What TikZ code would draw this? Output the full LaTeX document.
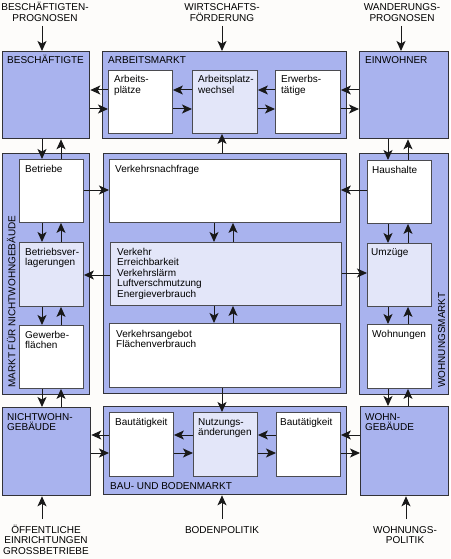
\documentclass[tikz,border=0pt]{standalone}
\usepackage{fontspec}
\setmainfont{Liberation Sans}
\usetikzlibrary{arrows.meta}
\definecolor{panelc}{RGB}{169,179,238}
\definecolor{lightc}{RGB}{227,230,249}
\definecolor{bgc}{RGB}{253,252,250}
\definecolor{edgec}{RGB}{50,50,55}
\definecolor{inedge}{RGB}{75,75,80}
\begin{document}
\begin{tikzpicture}[x=1pt,y=-1pt,
  panelbox/.style={draw=edgec, line width=1.3pt, fill=panelc, anchor=north west, inner sep=0pt},
  whitebox/.style={draw=inedge, line width=0.9pt, fill=white, anchor=north west, inner sep=0pt},
  lightbox/.style={draw=inedge, line width=0.9pt, fill=lightc, anchor=north west, inner sep=0pt},
  lbl/.style={anchor=base west, inner sep=0pt, font=\fontsize{10}{10.5}\selectfont, align=left},
  extlbl/.style={anchor=base, inner sep=0pt, font=\fontsize{10}{10.6}\selectfont, align=center},
  arr/.style={-{Stealth[length=10pt,width=9pt,inset=2.5pt]}, line width=1pt, draw=black!90}
]
\fill[bgc] (0,0) rectangle (450,559);
\useasboundingbox (0,0) rectangle (450,559);

% top row
\node[panelbox, minimum width=87.5pt, minimum height=87pt] (besch) at (1.5,51) {};
\node[panelbox, minimum width=244pt, minimum height=87pt] (arbm) at (102,51) {};
\node[panelbox, minimum width=88.5pt, minimum height=87pt] (einw) at (359,51) {};
\node[whitebox, minimum width=64pt, minimum height=63pt] (apl) at (108,70) {};
\node[lightbox, minimum width=65pt, minimum height=63pt] (apw) at (192,70) {};
\node[whitebox, minimum width=65pt, minimum height=63pt] (erw) at (275,70) {};
% middle row
\node[panelbox, minimum width=87.5pt, minimum height=241pt] (mnw) at (1.5,153) {};
\node[panelbox, minimum width=243pt, minimum height=240pt] (verk) at (103,153) {};
\node[panelbox, minimum width=88.5pt, minimum height=241pt] (wm) at (359,153) {};
\node[whitebox, minimum width=64pt, minimum height=63pt] (betr) at (19,159) {};
\node[lightbox, minimum width=64pt, minimum height=64pt] (bver) at (19,242) {};
\node[whitebox, minimum width=64pt, minimum height=63pt] (gew) at (19,325) {};
\node[whitebox, minimum width=231pt, minimum height=63pt] (vn) at (109,159) {};
\node[lightbox, minimum width=231pt, minimum height=63pt] (vk) at (110,242) {};
\node[whitebox, minimum width=231pt, minimum height=64pt] (va) at (109,323) {};
\node[whitebox, minimum width=64pt, minimum height=63pt] (hh) at (367,160) {};
\node[lightbox, minimum width=64pt, minimum height=63pt] (umz) at (367,243) {};
\node[whitebox, minimum width=64pt, minimum height=64pt] (wohn) at (367,324) {};
% bottom row
\node[panelbox, minimum width=88.5pt, minimum height=88pt] (nwg) at (1.5,407) {};
\node[panelbox, minimum width=243pt, minimum height=88pt] (bbm) at (103,406) {};
\node[whitebox, minimum width=64pt, minimum height=64pt] (bau1) at (109,412) {};
\node[lightbox, minimum width=64pt, minimum height=64pt] (nutz) at (193,412) {};
\node[whitebox, minimum width=64pt, minimum height=64pt] (bau2) at (276,412) {};
\node[panelbox, minimum width=88pt, minimum height=89pt] (wg) at (360,406) {};

% labels (anchor = baseline of the last line)
\node[lbl] (t1) at (7,64) {BESCHÄFTIGTE};
\node[lbl] (t2) at (108,64) {ARBEITSMARKT};
\node[lbl] (t3) at (365,64) {EINWOHNER};
\node[lbl] (t4) at (114,93.5) {Arbeits-\\plätze};
\node[lbl] (t5) at (198,93.5) {Arbeitsplatz-\\wechsel};
\node[lbl] (t6) at (281,93.5) {Erwerbs-\\tätige};
\node[lbl] (t7) at (25,172) {Betriebe};
\node[lbl] (t8) at (115,172) {Verkehrsnachfrage};
\node[lbl] (t9) at (372,173) {Haushalte};
\node[lbl] (t10) at (25,265.5) {Betriebsver-\\lagerungen};
\node[lbl] (t11) at (117,297) {Verkehr\\Erreichbarkeit\\Verkehrslärm\\Luftverschmutzung\\Energieverbrauch};
\node[lbl] (t12) at (371,255) {Umzüge};
\node[lbl] (t13) at (25,348.5) {Gewerbe-\\flächen};
\node[lbl] (t14) at (116,347.5) {Verkehrsangebot\\Flächenverbrauch};
\node[lbl] (t15) at (372,337) {Wohnungen};
\node[lbl] (t16) at (7,430.5) {NICHTWOHN-\\GEBÄUDE};
\node[lbl] (t17) at (115,425) {Bautätigkeit};
\node[lbl] (t18) at (198,435.5) {Nutzungs-\\änderungen};
\node[lbl] (t19) at (280,425) {Bautätigkeit};
\node[lbl] (t20) at (365,430.5) {WOHN-\\GEBÄUDE};
\node[lbl] (t21) at (110,489) {BAU- UND BODENMARKT};
\node[lbl, rotate=90] (t22) at (15.5,388) {MARKT FÜR NICHTWOHNGEBÄUDE};
\node[lbl, rotate=90] (t23) at (445,388) {WOHNUNGSMARKT};

% external labels (anchor = baseline of the last line)
\node[extlbl] (x1) at (45,21.6) {BESCHÄFTIGTEN-\\PROGNOSEN};
\node[extlbl] (x2) at (222,21.6) {WIRTSCHAFTS-\\FÖRDERUNG};
\node[extlbl] (x3) at (402,21.6) {WANDERUNGS-\\PROGNOSEN};
\node[extlbl] (x4) at (46,554.2) {ÖFFENTLICHE\\EINRICHTUNGEN\\GROSSBETRIEBE};
\node[extlbl] (x5) at (222,533) {BODENPOLITIK};
\node[extlbl] (x6) at (405,543.6) {WOHNUNGS-\\POLITIK};

\coordinate (e1) at (42,26);
\coordinate (e2) at (222,26);
\coordinate (e3) at (401,26);
\coordinate (e4) at (42,519);
\coordinate (e5) at (222,519);
\coordinate (e6) at (406,519);

% external arrows
\draw[arr] (e1) -- (besch.north -| e1);
\draw[arr] (e2) -- (arbm.north -| e2);
\draw[arr] (e3) -- (einw.north -| e3);
\draw[arr] (e4) -- (nwg.south -| e4);
\draw[arr] (e5) -- (bbm.south -| e5);
\draw[arr] (e6) -- (wg.south -| e6);

% top row horizontal
\draw[arr] (apl.west |- 0,90) -- (besch.east |- 0,90);
\draw[arr] (besch.east |- 0,109) -- (apl.west |- 0,109);
\draw[arr] (apw.west |- 0,90) -- (apl.east |- 0,90);
\draw[arr] (apl.east |- 0,109) -- (apw.west |- 0,109);
\draw[arr] (erw.west |- 0,90) -- (apw.east |- 0,90);
\draw[arr] (apw.east |- 0,109) -- (erw.west |- 0,109);
\draw[arr] (einw.west |- 0,90) -- (erw.east |- 0,90);
\draw[arr] (erw.east |- 0,109) -- (einw.west |- 0,109);

% bottom row horizontal
\draw[arr] (bau1.west |- 0,435) -- (nwg.east |- 0,435);
\draw[arr] (nwg.east |- 0,453) -- (bau1.west |- 0,453);
\draw[arr] (nutz.west |- 0,435) -- (bau1.east |- 0,435);
\draw[arr] (bau1.east |- 0,453) -- (nutz.west |- 0,453);
\draw[arr] (bau2.west |- 0,435) -- (nutz.east |- 0,435);
\draw[arr] (nutz.east |- 0,453) -- (bau2.west |- 0,453);
\draw[arr] (wg.west |- 0,435) -- (bau2.east |- 0,435);
\draw[arr] (bau2.east |- 0,453) -- (wg.west |- 0,453);

% left column vertical
\draw[arr] (besch.south -| 42,0) -- (betr.north -| 42,0);
\draw[arr] (betr.north -| 61,0) -- (besch.south -| 61,0);
\draw[arr] (betr.south -| 42,0) -- (bver.north -| 42,0);
\draw[arr] (bver.north -| 61,0) -- (betr.south -| 61,0);
\draw[arr] (bver.south -| 42,0) -- (gew.north -| 42,0);
\draw[arr] (gew.north -| 61,0) -- (bver.south -| 61,0);
\draw[arr] (gew.south -| 42,0) -- (nwg.north -| 42,0);
\draw[arr] (nwg.north -| 61,0) -- (gew.south -| 61,0);

% right column vertical
\draw[arr] (einw.south -| 388,0) -- (hh.north -| 388,0);
\draw[arr] (hh.north -| 408,0) -- (einw.south -| 408,0);
\draw[arr] (hh.south -| 388,0) -- (umz.north -| 388,0);
\draw[arr] (umz.north -| 408,0) -- (hh.south -| 408,0);
\draw[arr] (umz.south -| 388,0) -- (wohn.north -| 388,0);
\draw[arr] (wohn.north -| 408,0) -- (umz.south -| 408,0);
\draw[arr] (wohn.south -| 388,0) -- (wg.north -| 388,0);
\draw[arr] (wg.north -| 408,0) -- (wohn.south -| 408,0);

% centre vertical
\draw[arr] (vn.south -| 214,0) -- (vk.north -| 214,0);
\draw[arr] (vk.north -| 233,0) -- (vn.south -| 233,0);
\draw[arr] (vk.south -| 214,0) -- (va.north -| 214,0);
\draw[arr] (va.north -| 233,0) -- (vk.south -| 233,0);
\draw[arr] (verk.north -| 222,0) -- (apw.south -| 222,0);
\draw[arr] (va.south -| 222,0) -- (nutz.north -| 222,0);

% centre horizontal
\draw[arr] (betr.east |- 0,190) -- (vn.west |- 0,190);
\draw[arr] (hh.west |- 0,190) -- (vn.east |- 0,190);
\draw[arr] (vk.west |- 0,275) -- (bver.east |- 0,275);
\draw[arr] (vk.east |- 0,273) -- (umz.west |- 0,273);
\end{tikzpicture}
\end{document}
